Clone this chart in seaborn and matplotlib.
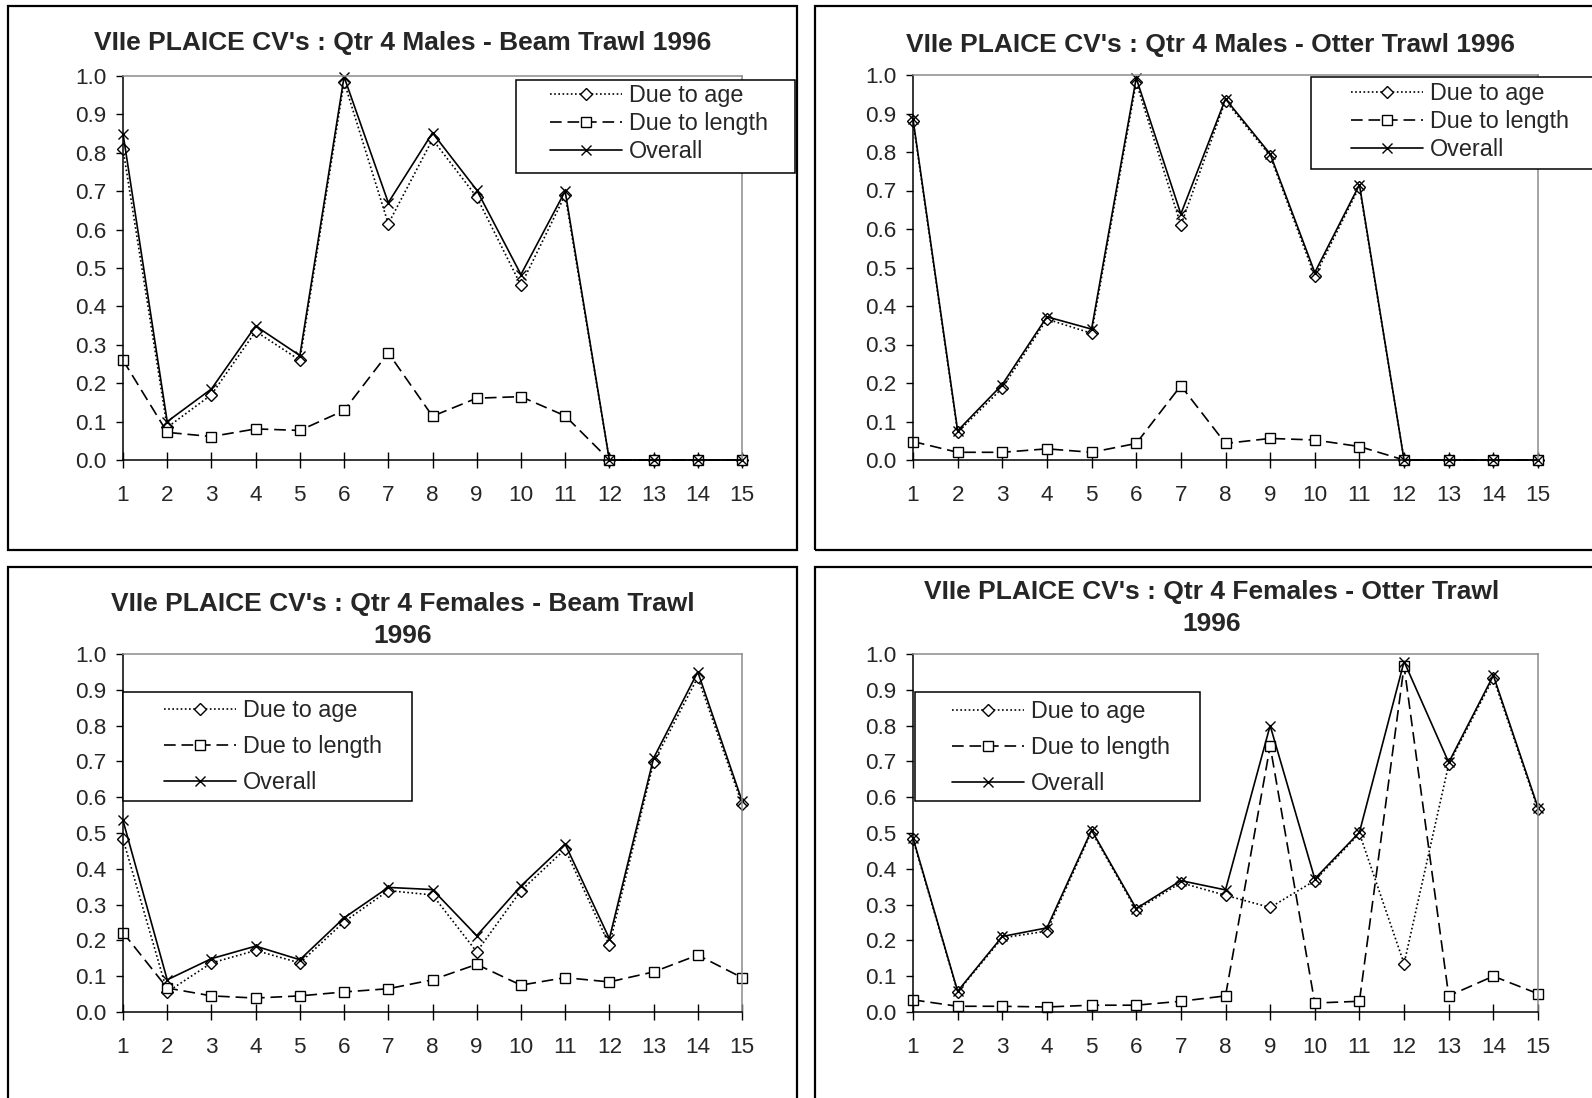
import numpy as np
import pandas as pd
import matplotlib
matplotlib.use("Agg")
import matplotlib.pyplot as plt
from matplotlib.patches import Rectangle
import seaborn as sns

# ---------------- data ----------------
ages = list(range(1, 16))
series_names = ["Due to age", "Due to length", "Overall"]

mb_age = [0.81, 0.085, 0.17, 0.335, 0.26, 0.985, 0.615, 0.835, 0.685, 0.455, 0.69, 0, 0, 0, 0]
mb_len = [0.26, 0.072, 0.061, 0.081, 0.077, 0.129, 0.279, 0.114, 0.161, 0.165, 0.115, 0, 0, 0, 0]
mb_all = [0.85, 0.10, 0.185, 0.349, 0.272, 0.998, 0.67, 0.852, 0.703, 0.483, 0.70, 0, 0, 0, 0]

mo_age = [0.881, 0.072, 0.187, 0.366, 0.329, 0.981, 0.61, 0.933, 0.79, 0.477, 0.71, 0, 0, 0, 0]
mo_len = [0.048, 0.02, 0.02, 0.029, 0.02, 0.043, 0.193, 0.043, 0.056, 0.052, 0.035, 0, 0, 0, 0]
mo_all = [0.886, 0.076, 0.196, 0.372, 0.340, 0.992, 0.639, 0.938, 0.795, 0.487, 0.715, 0, 0, 0, 0]

fb_age = [0.483, 0.056, 0.137, 0.172, 0.137, 0.252, 0.339, 0.327, 0.168, 0.339, 0.455, 0.187, 0.697, 0.935, 0.581]
fb_len = [0.222, 0.067, 0.045, 0.039, 0.045, 0.056, 0.065, 0.09, 0.133, 0.075, 0.096, 0.084, 0.112, 0.159, 0.096]
fb_all = [0.535, 0.09, 0.149, 0.184, 0.146, 0.263, 0.348, 0.342, 0.213, 0.352, 0.469, 0.205, 0.709, 0.95, 0.59]

fo_age = [0.482, 0.056, 0.207, 0.226, 0.504, 0.285, 0.361, 0.326, 0.292, 0.367, 0.499, 0.135, 0.692, 0.933, 0.566]
fo_len = [0.034, 0.016, 0.016, 0.014, 0.019, 0.019, 0.03, 0.045, 0.743, 0.025, 0.03, 0.966, 0.045, 0.10, 0.051]
fo_all = [0.486, 0.058, 0.211, 0.235, 0.508, 0.289, 0.367, 0.341, 0.80, 0.372, 0.502, 0.979, 0.697, 0.94, 0.571]

titles = [
    "VIIe PLAICE CV's : Qtr 4 Males - Beam Trawl 1996",
    "VIIe PLAICE CV's : Qtr 4 Males - Otter Trawl 1996",
    "VIIe PLAICE CV's : Qtr 4 Females - Beam Trawl\n1996",
    "VIIe PLAICE CV's : Qtr 4 Females - Otter Trawl\n1996",
]
y_ticks = [0.0, 0.1, 0.2, 0.3, 0.4, 0.5, 0.6, 0.7, 0.8, 0.9, 1.0]

# ---------------- style ----------------
sns.set_theme(style="white")
plt.rcParams["font.family"] = ["Liberation Sans", "DejaVu Sans"]

W, H = 1592, 1098
fig = plt.figure(figsize=(W / 100, H / 100), dpi=100)
fig.patch.set_facecolor("white")


def fx(px):
    return px / W


def fy(py):
    return 1 - py / H


def rect(l, t, r, b):
    return [fx(l), fy(b), (r - l) / W, (b - t) / H]


# layout (pixels)
panels = [
    dict(frame=(8, 6, 797, 550), axes=(123, 76, 742, 460), title_y=43, title_x=403,
         leg=(516, 80, 795, 173), leg_hx=550, leg_row0=97, leg_sp=0.22, data=(mb_age, mb_len, mb_all)),
    dict(frame=(815, 6, 1604, 550), axes=(913, 75, 1538, 460), title_y=45, title_x=1210,
         leg=(1311, 77, 1604, 169), leg_hx=1351, leg_row0=95, leg_sp=0.22, data=(mo_age, mo_len, mo_all)),
    dict(frame=(8, 567, 797, 1110), axes=(123, 654, 742, 1012), title_y=620, title_x=403,
         leg=(123, 692, 412, 801), leg_hx=164, leg_row0=712, leg_sp=0.55, data=(fb_age, fb_len, fb_all)),
    dict(frame=(815, 567, 1604, 1110), axes=(913, 654, 1538, 1012), title_y=608, title_x=1212,
         leg=(915, 692, 1200, 801), leg_hx=952, leg_row0=713, leg_sp=0.55, data=(fo_age, fo_len, fo_all)),
]

styles = [
    dict(marker="D", markersize=5.8, linestyle=(0, (1, 1.5)), linewidth=1.2),
    dict(marker="s", markersize=6.8, linestyle=(0, (7, 3.5)), linewidth=1.2),
    dict(marker="x", markersize=7.8, linestyle="-", linewidth=1.2),
]

for i, p in enumerate(panels):
    # chart-area frame
    l, t, r, b = p["frame"]
    fig.add_artist(Rectangle((fx(l), fy(b)), (r - l) / W, (b - t) / H,
                             transform=fig.transFigure, fill=False,
                             edgecolor="black", linewidth=1.6, zorder=0))
    ax = fig.add_axes(rect(*p["axes"]))
    ax.set_facecolor("white")
    df = pd.DataFrame({"age": ages,
                       series_names[0]: p["data"][0],
                       series_names[1]: p["data"][1],
                       series_names[2]: p["data"][2]})
    for name, st in zip(series_names, styles):
        sns.lineplot(data=df, x="age", y=name, ax=ax, color="black",
                     markerfacecolor="white", markeredgecolor="black",
                     markeredgewidth=1.0, clip_on=False, label=name, legend=False,
                     **st)
    ax.set_xlim(1, 15)
    ax.set_ylim(0, 1)
    ax.set_xlabel("")
    ax.set_ylabel("")
    ax.set_xticks(ages)
    ax.set_xticklabels([str(a) for a in ages])
    ax.set_yticks(y_ticks)
    ax.set_yticklabels([f"{v:.1f}" for v in y_ticks])
    ax.tick_params(axis="y", direction="out", length=5, width=1, color="black",
                   pad=7, labelsize=16.2, left=True)
    ax.tick_params(axis="x", direction="inout", length=11, width=1, color="black",
                   pad=12.5, labelsize=16.2, bottom=True)
    for side in ["left", "bottom"]:
        ax.spines[side].set_color("black")
        ax.spines[side].set_linewidth(1.1)
    for side in ["top", "right"]:
        ax.spines[side].set_color("#8c8c8c")
        ax.spines[side].set_linewidth(1.1)
    ax.grid(False)

    # title
    fig.text(fx(p["title_x"]), fy(p["title_y"]), titles[i], ha="center", va="center",
             fontsize=19, fontweight="bold", linespacing=1.45)

    # legend frame + legend
    ll, lt, lr, lb = p["leg"]
    fig.add_artist(Rectangle((fx(ll), fy(lb)), (lr - ll) / W, (lb - lt) / H,
                             transform=fig.transFigure, facecolor="white",
                             edgecolor="black", linewidth=1.1, zorder=5))
    handles, labels = ax.get_legend_handles_labels()
    leg = fig.legend(handles, labels, loc="upper left",
                     bbox_to_anchor=(fx(p["leg_hx"]), fy(p["leg_row0"] - 13)),
                     bbox_transform=fig.transFigure, frameon=False, borderpad=0,
                     borderaxespad=0, handlelength=3.1, handletextpad=0.3,
                     labelspacing=p["leg_sp"], numpoints=1, fontsize=16.8)
    leg.set_zorder(6)

fig.savefig("out.png", dpi=100, facecolor="white")
